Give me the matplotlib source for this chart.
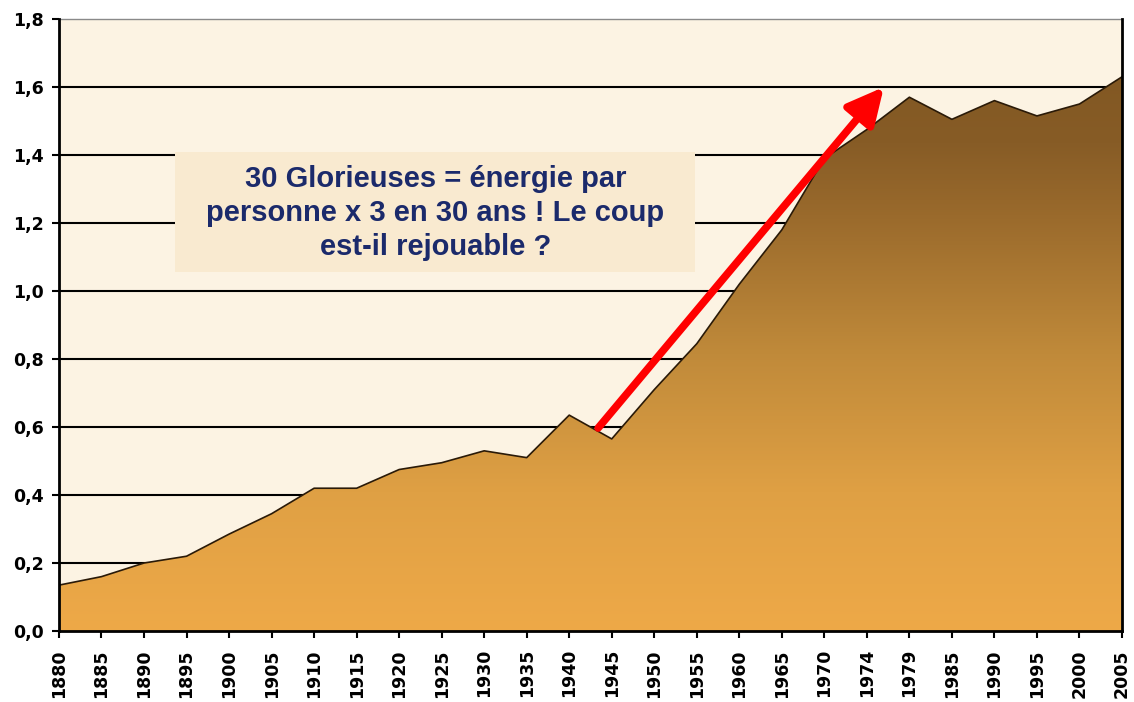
import numpy as np
import matplotlib
matplotlib.use('Agg')
import matplotlib.pyplot as plt
from matplotlib.colors import LinearSegmentedColormap
from matplotlib.patches import Polygon, Rectangle

# ---------- DATA ----------
years = ["1880", "1885", "1890", "1895", "1900", "1905", "1910", "1915", "1920",
         "1925", "1930", "1935", "1940", "1945", "1950", "1955", "1960", "1965",
         "1970", "1974", "1979", "1985", "1990", "1995", "2000", "2005"]
energy = [0.135, 0.16, 0.20, 0.22, 0.285, 0.345, 0.42, 0.42, 0.475,
          0.495, 0.53, 0.51, 0.635, 0.565, 0.71, 0.845, 1.02, 1.18,
          1.39, 1.475, 1.57, 1.505, 1.56, 1.515, 1.55, 1.63]
y_ticks = [0.0, 0.2, 0.4, 0.6, 0.8, 1.0, 1.2, 1.4, 1.6, 1.8]
message = "30 Glorieuses = énergie par\npersonne x 3 en 30 ans ! Le coup\nest-il rejouable ?"

x = np.arange(len(years))

fig = plt.figure(figsize=(11.34, 7.02), dpi=100)
ax = fig.add_axes([0.052, 0.1011, 0.9374, 0.8718])
ax.set_facecolor("#fcf3e3")

# ---------- GRID (behind the area) ----------
for yv in y_ticks[1:-1]:
    ax.axhline(yv, color="black", lw=1.5, zorder=1)

# ---------- GRADIENT AREA ----------
cmap = LinearSegmentedColormap.from_list(
    "brown", [(0.0, "#eea948"), (0.25, "#dfa044"), (0.5, "#c08a3a"),
              (0.75, "#9a6a2c"), (0.88, "#875c26"), (1.0, "#825823")])
grad = np.linspace(0, 1, 256).reshape(-1, 1)
top = max(energy)
img = ax.imshow(grad, cmap=cmap, origin="lower", aspect="auto",
                extent=[0, len(years) - 1, 0, top], zorder=2)
verts = [(0, 0)] + list(zip(x, energy)) + [(len(years) - 1, 0)]
poly = Polygon(verts, closed=True, facecolor="none", edgecolor="none")
ax.add_patch(poly)
img.set_clip_path(poly)
ax.plot(x, energy, color="#2a1a08", lw=1.2, zorder=3)
ax.set_xlim(0, len(years) - 1)
ax.set_ylim(0, 1.8)

# ---------- TEXT BOX ----------
ax.add_patch(Rectangle((2.73, 1.056), 12.23, 0.353, facecolor="#f9ead0",
                       edgecolor="none", zorder=4))
ax.text(8.85, 1.229, message, ha="center", va="center", fontsize=21,
        fontweight="bold", color="#1b2a6b", family="Liberation Sans",
        linespacing=1.28, zorder=5)

# ---------- ARROW ----------
ax.annotate("", xy=(19.4, 1.6), xytext=(12.68, 0.597),
            arrowprops=dict(arrowstyle="-|>,head_length=1.1,head_width=0.55",
                            color="#ff0000", lw=5.5, shrinkA=0, shrinkB=0,
                            mutation_scale=20),
            zorder=6)

# ---------- AXES ----------
ax.set_xticks(x)
ax.set_xticklabels(years, rotation=90, fontsize=12.5, fontweight="bold",
                   family="DejaVu Sans")
ax.set_yticks(y_ticks)
ax.set_yticklabels([f"{v:.1f}".replace(".", ",") for v in y_ticks],
                   fontsize=12.5, fontweight="bold", family="DejaVu Sans")
ax.tick_params(axis="both", direction="out", length=5, width=1.5, color="black")
ax.tick_params(axis="x", pad=8)
ax.tick_params(axis="y", pad=6)

for side in ["left", "bottom", "right"]:
    ax.spines[side].set_color("black")
    ax.spines[side].set_linewidth(2)
    ax.spines[side].set_zorder(7)
ax.spines["top"].set_color("#8a8a8a")
ax.spines["top"].set_linewidth(1)

fig.savefig("out.png", dpi=100, facecolor="white")
